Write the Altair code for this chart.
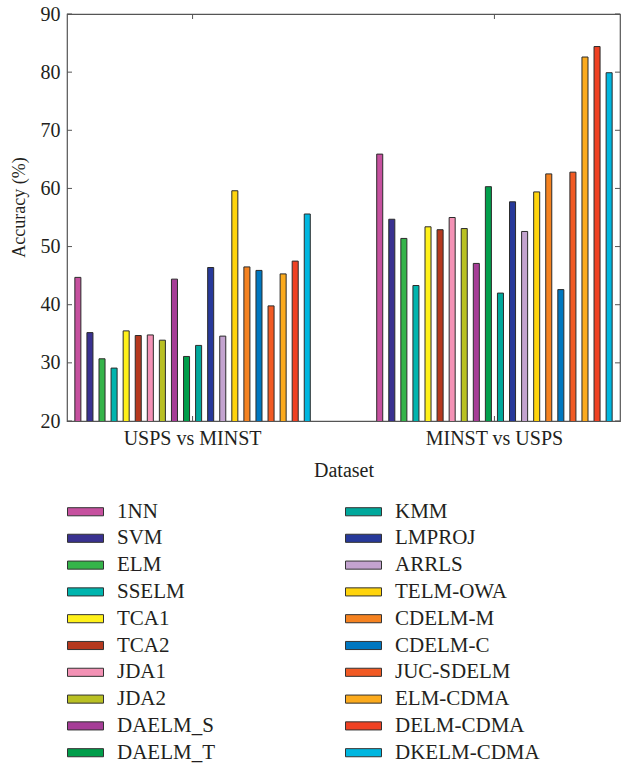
import altair as alt
import pandas as pd

datasets = ["USPS vs MINST", "MINST vs USPS"]
methods = ["1NN", "SVM", "ELM", "SSELM", "TCA1", "TCA2", "JDA1", "JDA2",
           "DAELM_S", "DAELM_T", "KMM", "LMPROJ", "ARRLS", "TELM-OWA",
           "CDELM-M", "CDELM-C", "JUC-SDELM", "ELM-CDMA", "DELM-CDMA", "DKELM-CDMA"]
usps_minst = [44.7, 35.2, 30.7, 29.1, 35.5, 34.7, 34.8, 33.9, 44.4, 31.1,
              33.0, 46.4, 34.6, 59.6, 46.5, 45.9, 39.8, 45.3, 47.5, 55.6]
minst_usps = [65.9, 54.7, 51.4, 43.3, 53.4, 52.9, 55.0, 53.1, 47.1, 60.3,
              42.0, 57.7, 52.6, 59.4, 62.5, 42.6, 62.8, 82.6, 84.4, 79.9]
colors = ["#c6519f", "#393190", "#35b44a", "#00b5ae", "#fff11a", "#b5381e",
          "#f392b5", "#b9c023", "#a63d97", "#019e4b", "#00a89c", "#27399a",
          "#c3a3cf", "#ffd40c", "#f58220", "#0077c0", "#f15a24", "#fbaa1d",
          "#ef4123", "#00b7e0"]
y_ticks = [20, 30, 40, 50, 60, 70, 80, 90]

rows = []
for d, vals in zip(datasets, [usps_minst, minst_usps]):
    for m, v in zip(methods, vals):
        rows.append({"Dataset": d, "Method": m, "Accuracy": v})
df = pd.DataFrame(rows)

FONT = "Liberation Serif"
TXT = "#231f20"
FRAME = "#555555"
W, H = 553, 407

xscale = alt.Scale(domain=datasets, paddingInner=0.2, paddingOuter=0.016)
yscale = alt.Scale(domain=[20, 90], nice=False, zero=False)

bars = alt.Chart(df).mark_bar(stroke="#2b2b2b", strokeWidth=1, clip=True).encode(
    x=alt.X("Dataset:N", scale=xscale, sort=datasets,
            axis=alt.Axis(title="Dataset", labelAngle=0, ticks=False, domain=False,
                          labelPadding=7, titlePadding=12)),
    xOffset=alt.XOffset("Method:N", sort=methods,
                        scale=alt.Scale(paddingInner=0.5, paddingOuter=0.25)),
    y=alt.Y("Accuracy:Q", scale=yscale,
            axis=alt.Axis(title="Accuracy (%)", values=y_ticks, ticks=False, domain=False,
                          grid=False, labelPadding=7, titlePadding=12,
                          titleFontSize=18, titleY=193)),
    color=alt.Color("Method:N",
                    scale=alt.Scale(domain=methods, range=colors),
                    legend=alt.Legend(title=None, orient="none", legendX=8, legendY=487,
                                      columns=2, columnPadding=128, rowPadding=4.8,
                                      symbolType="M-2,-0.45L2,-0.45L2,0.45L-2,0.45Z",
                                      symbolSize=324, symbolStrokeColor="#333333",
                                      symbolStrokeWidth=1, symbolOpacity=1,
                                      labelFont=FONT, labelFontSize=21, labelColor=TXT,
                                      labelOffset=21, gridAlign="each", labelLimit=300)),
)

ticks_df = pd.DataFrame({"y": y_ticks})
left_ticks = alt.Chart(ticks_df).mark_rule(color=FRAME).encode(
    y=alt.Y("y:Q", scale=yscale), x=alt.value(0), x2=alt.value(5))
right_ticks = alt.Chart(ticks_df).mark_rule(color=FRAME).encode(
    y=alt.Y("y:Q", scale=yscale), x=alt.value(W), x2=alt.value(W - 5))

grp_df = pd.DataFrame({"Dataset": datasets})
bottom_ticks = alt.Chart(grp_df).mark_rule(color=FRAME).encode(
    x=alt.X("Dataset:N", scale=xscale, sort=datasets),
    y=alt.value(H), y2=alt.value(H - 5))
top_ticks = alt.Chart(grp_df).mark_rule(color=FRAME).encode(
    x=alt.X("Dataset:N", scale=xscale, sort=datasets),
    y=alt.value(0), y2=alt.value(5))

chart = alt.layer(bars, left_ticks, right_ticks, bottom_ticks, top_ticks).properties(
    width=W, height=H,
    autosize=alt.AutoSizeParams(type="none"),
    padding={"left": 67, "top": 14, "right": 4, "bottom": 342},
).configure_view(
    stroke=FRAME, strokeWidth=1.2
).configure_axis(
    labelFont=FONT, labelFontSize=20, labelColor=TXT,
    titleFont=FONT, titleFontSize=20, titleColor=TXT, titleFontWeight="normal",
)

chart.save("out.html", embed_options={"renderer": "svg", "actions": False})
